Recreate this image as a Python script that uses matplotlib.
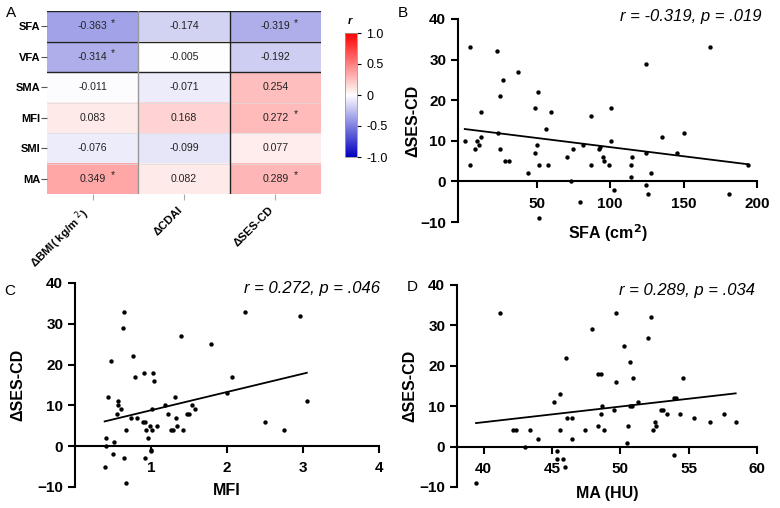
import numpy as np
import matplotlib
matplotlib.use('Agg')
from matplotlib import pyplot as plt
from matplotlib.colors import LinearSegmentedColormap

plt.rcParams['font.family'] = ['Liberation Sans', 'DejaVu Sans']

# ---- panel A: correlation heatmap ----
rows = ['SFA', 'VFA', 'SMA', 'MFI', 'SMI', 'MA']
cols = ['ΔBMI( kg/m $^{2}$)', 'ΔCDAI', 'ΔSES-CD']
r_bmi = [-0.363, -0.314, -0.011, 0.083, -0.076, 0.349]
r_cdai = [-0.174, -0.005, -0.071, 0.168, -0.099, 0.082]
r_ses = [-0.319, -0.192, 0.254, 0.272, 0.077, 0.289]
sig_bmi = [1, 1, 0, 0, 0, 1]
sig_cdai = [0, 0, 0, 0, 0, 0]
sig_ses = [1, 0, 0, 1, 0, 1]

# ---- panel B: SFA vs dSES-CD ----
sfa = [1, 4.5, 4.5, 8, 9.5, 10.7, 11.8, 12, 23, 23.4, 24.8, 24.8, 26.8, 28.4, 31,
       37, 44.3, 49, 49, 50, 50.7, 51.8, 51.8, 56, 59.5, 58, 70.5, 73.6, 74.5, 79.3,
       81.4, 87, 87, 92.7, 93, 94.8, 96, 98.9, 100.7, 100.7, 102.3, 114, 114, 115,
       124.5, 124.5, 124.5, 126, 127.5, 135, 145.5, 150.5, 168, 181, 194]
ses_b = [10, 33, 4, 8, 10, 9, 11, 17, 32, 12, 21, 8, 25, 5, 5,
         27, 2, 18, 7, 9, 22, 4, -9, 13, 17, 4, 6, 0, 8, -5,
         9, 16, 4, 8, 8.4, 6, 5, 4, 18, 10, -2, 4, 1, 6,
         29, 7, -1, -3, 2, 11, 7, 12, 33, -3, 4]

# ---- panel C: MFI vs dSES-CD ----
mfi = [0.39, 0.41, 0.41, 0.44, 0.47, 0.5, 0.51, 0.55, 0.57, 0.57, 0.6, 0.63, 0.64,
       0.65, 0.67, 0.67, 0.74, 0.76, 0.79, 0.82, 0.9, 0.92, 0.91, 0.92, 0.93, 0.96,
       0.99, 1.0, 1.0, 1.01, 1.01, 1.02, 1.04, 1.08, 1.18, 1.23, 1.26, 1.29, 1.32,
       1.33, 1.34, 1.39, 1.42, 1.47, 1.5, 1.54, 1.58, 1.79, 2.0, 2.07, 2.24, 2.5,
       2.75, 2.96, 3.05]
ses_c = [-5, 2, 0, 12, 21, -2, 1, 8, 11, 10, 9, 29, 33,
         -3, 4, -9, 7, 22, 17, 7, 6, 6, 18, -3, 4, 2,
         5, -1, -1.2, 4, 9, 18, 16, 5, 10, 8, 4, 4, 12,
         7, 5, 27, 4, 8, 8, 10, 9, 25, 13, 17, 33, 6,
         4, 32, 11]

# ---- panel D: MA vs dSES-CD ----
ma = [39.44, 41.17, 42.14, 42.38, 43.0, 43.36, 43.97, 45.18, 45.35, 45.35, 45.6,
      45.6, 45.8, 45.96, 46.0, 46.13, 46.45, 46.45, 47.42, 47.93, 48.4, 48.4, 48.6,
      48.6, 48.64, 48.83, 49.56, 49.66, 49.66, 50.27, 50.46, 50.58, 50.7, 50.7,
      50.88, 50.95, 51.3, 52.04, 52.24, 52.4, 52.53, 52.6, 52.97, 53.09, 53.38,
      53.9, 54.06, 53.92, 54.36, 54.6, 55.4, 56.55, 57.6, 58.44]
ses_d = [-9, 33, 4, 4, 0, 4, 2, 11, -1, -3, 13,
         4, -3, -5, 22, 7, 7, 2, 4, 29, 5, 18, 18,
         8, 10, 4, 9, 16, 33, 25, 1, 5, 21, 10,
         10, 17, 11, 27, 32, 4, 6, 5, 9, 9, 8,
         12, 12, -2, 8, 17, 7, 6, 8, 6]

stats = ['r = -0.319, p = .019', 'r = 0.272, p = .046', 'r = 0.289, p = .034']

W, H = 780, 508
fig = plt.figure(figsize=(7.8, 5.08), dpi=100)


def px_axes(left, top, right, bottom):
    return fig.add_axes([left / W, 1 - bottom / H, (right - left) / W, (bottom - top) / H])


# heatmap
cmap = LinearSegmentedColormap.from_list('rb', ['#0000c0', '#ffffff', '#ff0000'])
mat = np.array([r_bmi, r_cdai, r_ses]).T
sig = np.array([sig_bmi, sig_cdai, sig_ses]).T
axA = px_axes(47, 11, 321, 194)
im = axA.imshow(mat, cmap=cmap, vmin=-1, vmax=1, aspect='auto')
for i in range(len(rows)):
    for j in range(len(cols)):
        axA.text(j, i, f'{mat[i, j]:.3f}', ha='center', va='center', fontsize=7.6, color='#222222')
        if sig[i, j]:
            axA.text(j + 0.22, i - 0.12, '*', ha='center', va='center', fontsize=7.5, color='#222222')
for s in axA.spines.values():
    s.set_visible(False)
axA.axhline(-0.5, color='#222222', lw=1)
axA.axhline(0.5, color='#222222', lw=1)
axA.axhline(1.5, color='#222222', lw=1)
for yb in [2.5, 3.5, 4.5]:
    axA.axhline(yb, color='#dddddd', lw=0.5)
axA.axvline(0.5, color='#999999', lw=1)
axA.axvline(1.5, color='#222222', lw=1)
axA.set_yticks(range(len(rows)))
axA.set_yticklabels(rows, fontsize=8, fontweight='bold')
axA.set_xticks(range(len(cols)))
axA.set_xticklabels(cols, fontsize=8.2, fontweight='bold', rotation=45, ha='right', va='top')
axA.tick_params(axis='y', length=4, color='#555555', pad=1)
axA.tick_params(axis='x', length=4, color='#aaaaaa', pad=4)

caxA = px_axes(345, 33, 357, 157)
cb = fig.colorbar(im, cax=caxA, ticks=[1.0, 0.5, 0, -0.5, -1.0])
cb.ax.set_yticklabels(['1.0', '0.5', '0', '-0.5', '-1.0'], fontsize=9)
cb.outline.set_edgecolor('#999999')
cb.outline.set_linewidth(0.6)
cb.ax.tick_params(length=3, width=0.8)
fig.text(350 / W, 1 - 21 / H, 'r', fontsize=8, fontweight='bold', style='italic', ha='center', va='center')


def scatter_panel(box, x, y, xlim, xticks, xlabel, xlab_y, ylab_x, stat, stat_pos):
    ax = px_axes(*box)
    ax.scatter(x, y, s=10, color='black', zorder=3, linewidths=0)
    k, b = np.polyfit(x, y, 1)
    xs = np.array([min(x), max(x)])
    ax.plot(xs, k * xs + b, color='black', lw=1.3)
    ax.set_xlim(*xlim)
    ax.set_ylim(-10, 40)
    ax.set_yticks([-10, 0, 10, 20, 30, 40])
    ax.set_xticks(xticks)
    ax.spines['bottom'].set_position(('data', 0))
    ax.spines['top'].set_visible(False)
    ax.spines['right'].set_visible(False)
    for s in ['left', 'bottom']:
        ax.spines[s].set_linewidth(1.5)
    ax.tick_params(width=1.5, length=5, labelsize=11)
    ax.tick_params(axis='x', pad=6)
    for lbl in ax.get_xticklabels() + ax.get_yticklabels():
        lbl.set_fontweight('bold')
    ax.set_ylabel('ΔSES-CD', fontsize=11.5, fontweight='bold')
    ax.yaxis.set_label_coords(ylab_x, 0.5)
    ax.text(0.5, xlab_y, xlabel, transform=ax.transAxes, ha='center', va='center',
            fontsize=11.5, fontweight='bold')
    fig.text(stat_pos[0] / W, 1 - stat_pos[1] / H, stat, ha='right', va='center',
             fontsize=12, style='italic')
    return ax


scatter_panel((458, 19, 757, 222), sfa, ses_b, (-3.6, 200), [50, 100, 150, 200],
              'SFA (cm$^\\mathbf{2}$)', -0.055, -0.127, stats[0], (762, 17))
scatter_panel((75, 283, 379, 487), mfi, ses_c, (0, 4), [1, 2, 3, 4],
              'MFI', -0.015, -0.164, stats[1], (380, 288))
scatter_panel((457, 285, 757, 487), ma, ses_d, (38.05, 60), [40, 45, 50, 55, 60],
              'MA (HU)', -0.03, -0.133, stats[2], (755, 290))

for lab, (px, py) in zip('ABCD', [(11, 13), (403, 13), (10, 291), (412, 287)]):
    fig.text(px / W, 1 - py / H, lab, fontsize=11, ha='center', va='center')

fig.savefig('out.png', dpi=100)
